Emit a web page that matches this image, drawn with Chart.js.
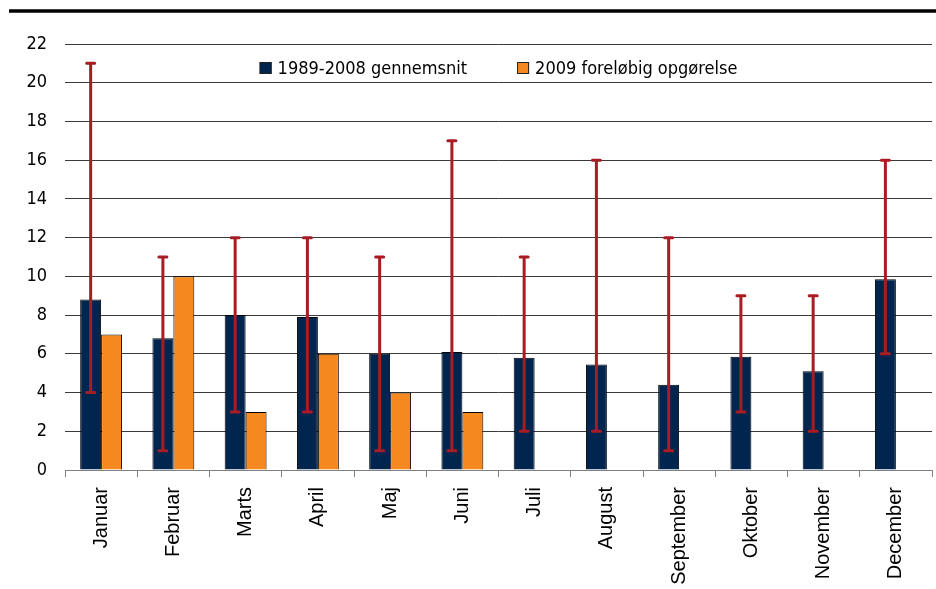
<!DOCTYPE html>
<html>
<head>
<meta charset="utf-8">
<script src="https://cdn.jsdelivr.net/npm/chart.js@4/dist/chart.umd.min.js"></script>
<style>
  html, body { margin: 0; padding: 0; background: #fff; }
  #wrap { width: 936px; height: 589px; position: relative; }
</style>
</head>
<body>
<div id="wrap"><canvas id="graf"></canvas></div>
<script>
// Data
const maaneder = ['Januar', 'Februar', 'Marts', 'April', 'Maj', 'Juni', 'Juli', 'August', 'September', 'Oktober', 'November', 'December'];
const gennemsnit = [8.8, 6.8, 8.0, 7.9, 6.0, 6.1, 5.8, 5.45, 4.4, 5.85, 5.1, 9.85];
const foreloebig = [7, 10, 3, 6, 4, 3, null, null, null, null, null, null];
const minVaerdi = [4, 1, 3, 3, 1, 1, 2, 2, 1, 3, 2, 6];
const maxVaerdi = [21, 11, 12, 12, 11, 17, 11, 16, 12, 9, 9, 16];
const serieNavne = ['1989-2008 gennemsnit', '2009 foreløbig opgørelse'];
const yTicks = [0, 2, 4, 6, 8, 10, 12, 14, 16, 18, 20, 22];

const tekstFont = '"DejaVu Sans Condensed", "DejaVu Sans", sans-serif';

// Spaendvidde (min-max) tegnes paa den moerke serie
const fejlLinjer = {
  id: 'fejlLinjer',
  afterDatasetsDraw(chart) {
    const c = chart.ctx;
    const meta = chart.getDatasetMeta(0);
    const y = chart.scales.y;
    c.save();
    c.strokeStyle = '#A81C24';
    c.lineWidth = 3;
    c.lineCap = 'round';
    meta.data.forEach((bar, i) => {
      const yMin = y.getPixelForValue(minVaerdi[i]);
      const yMax = y.getPixelForValue(maxVaerdi[i]);
      c.beginPath();
      c.moveTo(bar.x, yMin); c.lineTo(bar.x, yMax);
      c.moveTo(bar.x - 4, yMin); c.lineTo(bar.x + 4, yMin);
      c.moveTo(bar.x - 4, yMax); c.lineTo(bar.x + 4, yMax);
      c.stroke();
    });
    c.restore();
  }
};

// Legende inde i plotomraadet + sort streg i toppen
const ramme = {
  id: 'ramme',
  afterDraw(chart) {
    const c = chart.ctx;
    const area = chart.chartArea;
    c.save();
    c.strokeStyle = '#000';
    c.lineWidth = 3.5;
    c.beginPath();
    c.moveTo(9, 11);
    c.lineTo(936, 11);
    c.stroke();

    c.font = '18px ' + tekstFont;
    c.textBaseline = 'middle';
    const boks = 12, mellem = 6, afstand = 50;
    const sets = chart.data.datasets;
    const bredder = sets.map(d => c.measureText(d.label).width);
    const total = sets.length * (boks + mellem) + bredder.reduce((a, b) => a + b, 0) + afstand * (sets.length - 1);
    let x = (area.left + area.right) / 2 - total / 2;
    const yMid = area.top + 24;
    sets.forEach((d, i) => {
      c.fillStyle = d.backgroundColor;
      c.fillRect(x, yMid - boks / 2, boks, boks);
      c.strokeStyle = '#222';
      c.lineWidth = 1;
      c.strokeRect(x + 0.5, yMid - boks / 2 + 0.5, boks - 1, boks - 1);
      c.fillStyle = '#000';
      c.fillText(d.label, x + boks + mellem, yMid + 1);
      x += boks + mellem + bredder[i] + afstand;
    });
    c.restore();
  }
};

const ctx = document.getElementById('graf').getContext('2d');
new Chart(ctx, {
  type: 'bar',
  data: {
    labels: maaneder,
    datasets: [
      {
        label: serieNavne[0],
        data: gennemsnit,
        backgroundColor: '#002650',
        borderColor: '#000000',
        borderWidth: 1
      },
      {
        label: serieNavne[1],
        data: foreloebig,
        backgroundColor: '#F5891F',
        borderColor: '#000000',
        borderWidth: 1
      }
    ]
  },
  options: {
    responsive: true,
    maintainAspectRatio: false,
    animation: false,
    categoryPercentage: 0.58,
    barPercentage: 1.0,
    layout: { padding: { top: 44, right: 4, left: 0, bottom: 0 } },
    plugins: {
      legend: { display: false },
      tooltip: { enabled: false }
    },
    scales: {
      x: {
        offset: true,
        grid: { display: true, drawOnChartArea: false, drawTicks: true, tickLength: 7, offset: true, color: '#808080' },
        border: { display: true, color: '#808080', width: 1 },
        ticks: {
          minRotation: 90,
          maxRotation: 90,
          padding: 10,
          autoSkip: false,
          color: '#000',
          font: { family: '"Liberation Sans", Arial, sans-serif', size: 20 }
        },
        afterFit(scale) { scale.height = 119; }
      },
      y: {
        min: 0,
        max: 22,
        afterBuildTicks(scale) { scale.ticks = yTicks.map(v => ({ value: v })); },
        grid: { color: '#3a3a3a', lineWidth: 1, drawTicks: false },
        border: { display: false },
        ticks: {
          padding: 18,
          color: '#000',
          font: { family: tekstFont, size: 18 }
        },
        afterFit(scale) { scale.width = 65; }
      }
    }
  },
  plugins: [fejlLinjer, ramme]
});
</script>
</body>
</html>
